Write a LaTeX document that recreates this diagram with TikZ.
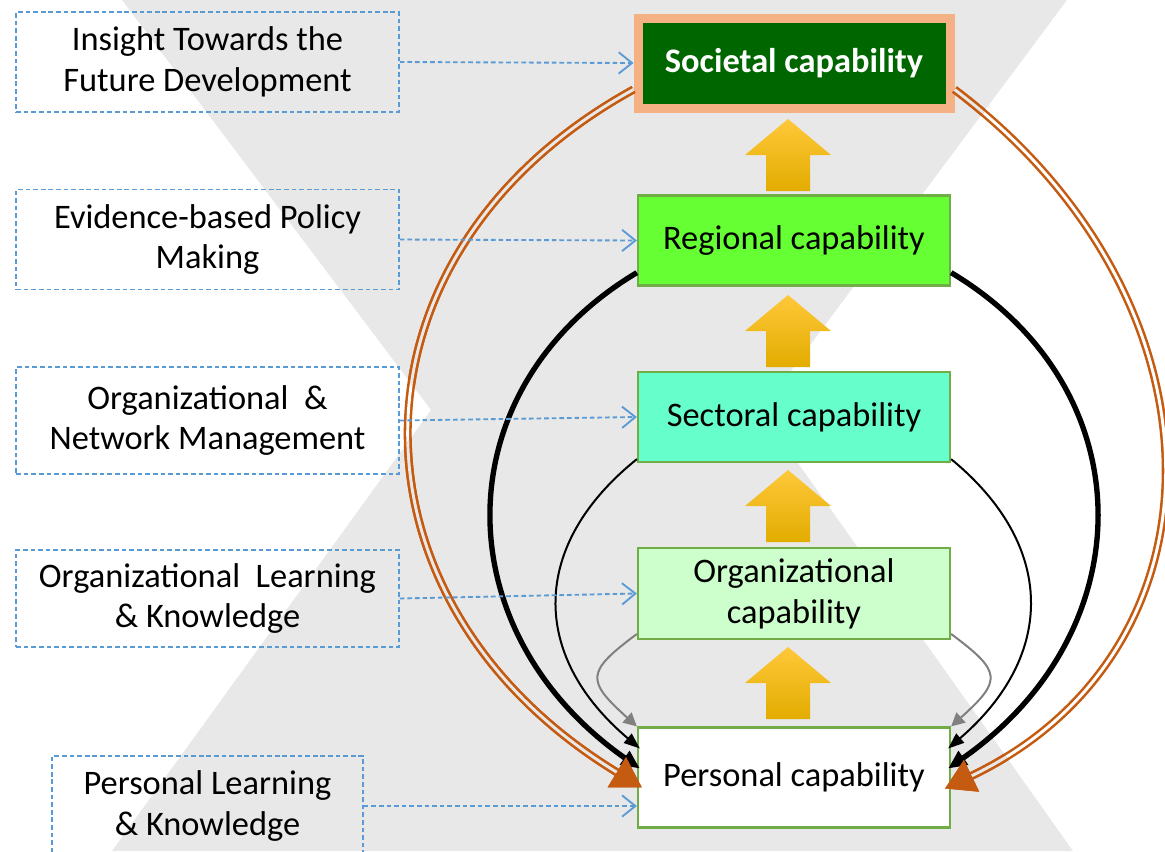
\documentclass[tikz,border=0pt]{standalone}
\usepackage{fontspec}
\setmainfont{Carlito}
\usetikzlibrary{arrows.meta,calc}

\definecolor{bggray}{HTML}{E8E8E8}
\definecolor{socfill}{HTML}{006600}
\definecolor{socedge}{HTML}{F4B183}
\definecolor{regfill}{HTML}{66FF33}
\definecolor{secfill}{HTML}{66FFCC}
\definecolor{orgfill}{HTML}{CCFFCC}
\definecolor{boxgreen}{HTML}{70AD47}
\definecolor{noteblue}{HTML}{5B9BD5}
\definecolor{arcorange}{HTML}{C55A11}
\definecolor{arcgray}{HTML}{808080}
\definecolor{arrtop}{HTML}{FFC83A}
\definecolor{arrmid}{HTML}{FFC000}
\definecolor{arrbot}{HTML}{E2AC00}

\tikzset{
  capbox/.style={draw=boxgreen, line width=1.7pt, minimum width=234pt, minimum height=67.5pt, align=center},
  notebox/.style={draw=noteblue, line width=1.4pt, dash pattern=on 3.5pt off 2.2pt, minimum width=287pt, minimum height=75pt, align=center},
  notelink/.style={noteblue, line width=1.4pt, dash pattern=on 3.5pt off 2.2pt, -{Straight Barb[length=10pt,width=16pt]}},
  grayarc/.style={arcgray, line width=1.5pt, -{Triangle[length=10pt,width=10pt]}},
  thinarc/.style={black, line width=1.5pt, -{Triangle[length=12pt,width=9pt]}},
  thickarc/.style={black, line width=4pt, -{Triangle[length=14pt,width=12pt]}},
  socarc/.style={arcorange, line width=1.9pt, double distance=2.2pt, -{Triangle[length=22pt,width=26pt]}}
}

\def\bgshape{(122,0) -- (1067,0) -- (761,411) -- (1073,851) -- (112,851) -- (431,410) -- cycle}

\begin{document}
\begin{tikzpicture}[x=0.75pt, y=-0.75pt, font=\fontsize{25.8pt}{30.6pt}\selectfont]
\useasboundingbox (0,0) rectangle (1165,851);
\fill[bggray] \bgshape;

\node[capbox, draw=socedge, line width=6.75pt, fill=socfill, text=white] (soc) at (794,63) {\textbf{Societal capability}};
\node[capbox, fill=regfill] (reg) at (794,240.5) {Regional capability};
\node[capbox, fill=secfill] (sec) at (794,417) {Sectoral capability};
\node[capbox, fill=orgfill, minimum height=68pt] (org) at (794,593.5) {Organizational\\capability};
\node[capbox, fill=white, minimum height=75pt] (per) at (794,777.5) {Personal capability};

\node[notebox] (ins) at (207.5,62) {Insight Towards the\\Future Development};
\node[notebox] (ebp) at (207.5,239.5) {Evidence-based Policy\\Making};
\node[notebox, minimum height=80pt] (onm) at (207.5,420.5) {Organizational~ \&\\Network Management};
\node[notebox, minimum height=73pt] (olk) at (207.5,598.5) {Organizational~ Learning\\\& Knowledge};
\node[notebox, minimum width=233pt] (pln) at (207.5,806) {Personal Learning\\\& Knowledge};

\foreach \t in {119,295,470,647}
  \shade[top color=arrtop, middle color=arrmid, bottom color=arrbot] (788,\t) -- ++(43,36) -- ++(-21,0) -- ++(0,36) -- ++(-44,0) -- ++(0,-36) -- ++(-21,0) -- cycle;

\draw[grayarc] ($(org.south west)+(0,-6)$) .. controls +(-51,38) and +(-51,-46) .. (per.north west);
\draw[grayarc] ($(org.south east)+(0,-6)$) .. controls +(51,38) and +(51,-46) .. (per.north east);
\draw[thinarc] ($(sec.south west)+(0,-4)$) .. controls +(-107,86) and +(-110,-93) .. ($(per.west)+(3,-29)$);
\draw[thinarc] ($(sec.south east)+(0,-4)$) .. controls +(105,86) and +(108,-93) .. ($(per.east)+(-3,-29)$);
\draw[thickarc] ($(reg.south west)+(0,-14)$) .. controls +(-194,116) and +(-197,-138) .. ($(per.west)+(3,-9)$);
\draw[thickarc] ($(reg.south east)+(0,-14)$) .. controls +(194,116) and +(197,-138) .. ($(per.east)+(-3,-9)$);

\draw[socarc, double=white] ($(soc.south west)+(0,-23)$) .. controls +(-298,164) and +(-307,-187) .. ($(per.west)+(5,10)$);
\draw[socarc, double=white] ($(soc.south east)+(0,-23)$) .. controls +(279,211) and +(288,-138) .. ($(per.east)+(-6,11)$);
\begin{scope}
  \clip \bgshape;
  \draw[socarc, double=bggray] ($(soc.south west)+(0,-23)$) .. controls +(-298,164) and +(-307,-187) .. ($(per.west)+(5,10)$);
  \draw[socarc, double=bggray] ($(soc.south east)+(0,-23)$) .. controls +(279,211) and +(288,-138) .. ($(per.east)+(-6,11)$);
\end{scope}

\draw[notelink] (ins.east) -- (soc.west);
\draw[notelink] (ebp.east) -- (reg.west);
\draw[notelink] (onm.east) -- (sec.west);
\draw[notelink] (olk.east) -- (org.west);
\draw[notelink] (pln.east) -- (pln.east -| per.west);
\end{tikzpicture}
\end{document}
